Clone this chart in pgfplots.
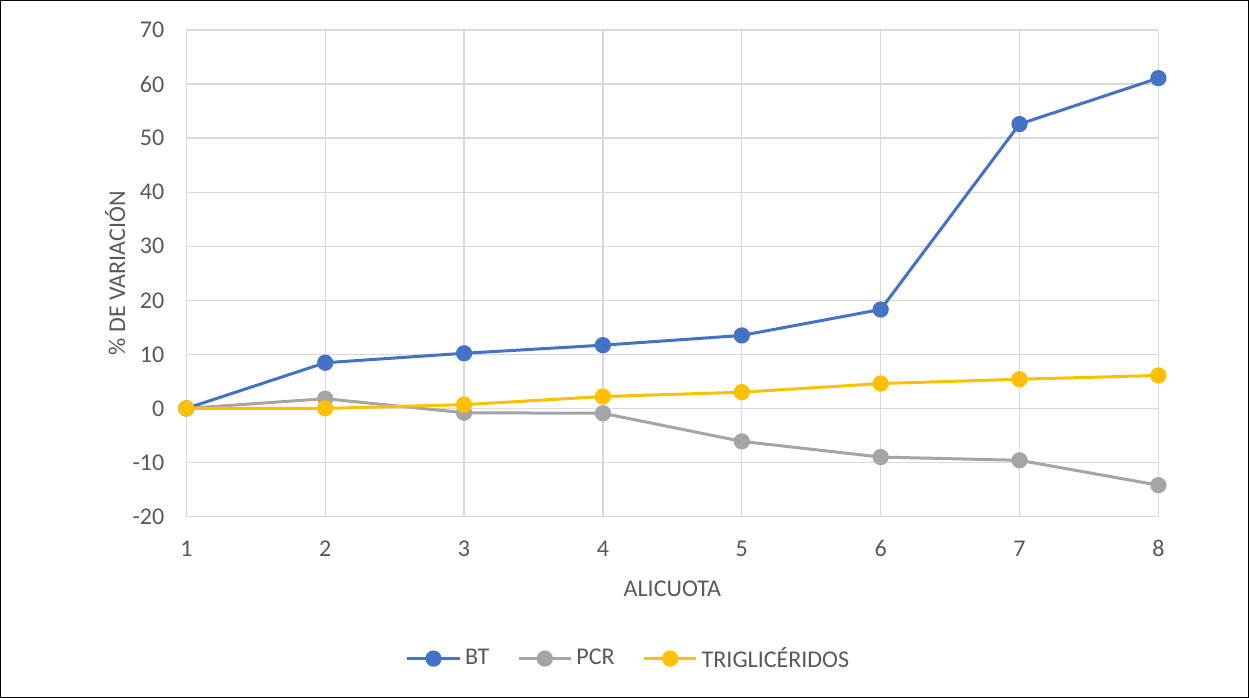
\documentclass[border=0pt]{standalone}
\usepackage{pgfplots}
\pgfplotsset{compat=1.18}
\usepackage{fontspec}
\setmainfont{Carlito}
\definecolor{btc}{HTML}{4472C4}
\definecolor{pcrc}{HTML}{A5A5A5}
\definecolor{tgc}{HTML}{FFC000}
\definecolor{gridc}{HTML}{D9D9D9}
\definecolor{axisc}{HTML}{BFBFBF}
\definecolor{textc}{HTML}{595959}
\begin{document}
\begin{tikzpicture}
\begin{axis}[
  scale only axis, width=485.5pt, height=243pt,
  xmin=1, xmax=8, ymin=-20, ymax=70,
  xtick={1,...,8}, ytick={-20,-10,...,70},
  grid=major, major grid style={draw=gridc, line width=0.65pt},
  extra y ticks={0}, extra y tick labels={},
  extra y tick style={grid style={draw=axisc, line width=0.65pt}},
  axis line style={draw=none}, major tick length=0pt,
  /pgf/number format/assume math mode=true,
  tick label style={font=\fontsize{12}{14}\selectfont, text=textc},
  xticklabel style={anchor=center, yshift=-16pt},
  yticklabel style={anchor=east, xshift=-7.5pt},
  label style={font=\fontsize{12}{14}\selectfont, text=textc},
  xlabel={ALICUOTA}, ylabel={\% DE VARIACIÓN},
  xlabel style={at={(rel axis cs:0.5,-0.148)}, anchor=center},
  ylabel style={at={(rel axis cs:-0.0731,0.5)}, anchor=center},
  clip=false,
  legend style={at={(rel axis cs:0.456,-0.292)}, anchor=center, draw=none,
    font=\fontsize{12}{14}\selectfont, text=textc,
    /tikz/every even column/.append style={column sep=12pt}},
  legend columns=3,
  legend image code/.code={\draw[mark repeat=2,mark phase=2] plot coordinates {(0pt,0pt)(13pt,0pt)(26pt,0pt)};},
  every axis plot/.append style={line width=1.5pt, mark=*, mark size=3.3pt, mark options={solid}},
]
\addplot[color=btc, mark options={fill=btc}] coordinates {
  (1,0) (2,8.45) (3,10.2) (4,11.7) (5,13.5) (6,18.3) (7,52.6) (8,61.1)};
\addlegendentry{BT}
\addplot[color=pcrc, mark options={fill=pcrc}] coordinates {
  (1,0) (2,1.8) (3,-0.8) (4,-0.9) (5,-6.1) (6,-9.0) (7,-9.6) (8,-14.2)};
\addlegendentry{PCR}
\addplot[color=tgc, mark options={fill=tgc}] coordinates {
  (1,0) (2,0.0) (3,0.7) (4,2.2) (5,3.0) (6,4.6) (7,5.4) (8,6.1)};
\addlegendentry{TRIGLICÉRIDOS}
\draw[black, line width=0.5pt] (rel axis cs:-0.1912,-0.3714) rectangle (rel axis cs:1.0927,1.0607);
\end{axis}
\end{tikzpicture}
\end{document}
